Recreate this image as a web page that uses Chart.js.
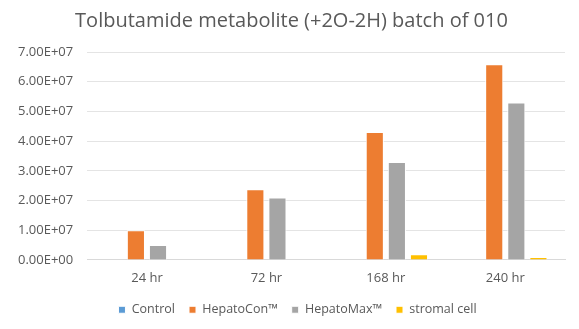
<!DOCTYPE html>
<html lang="en">
<head>
  <meta charset="UTF-8">
  <title>Tolbutamide metabolite</title>
  <script src="https://cdn.jsdelivr.net/npm/chart.js@4/dist/chart.umd.min.js"></script>
  <style>
    body { margin: 0; background: #fff; }
  </style>
</head>
<body>
<canvas id="metaboliteChart" width="579" height="329"></canvas>

<script>
  // time points and measured peak areas per culture type
  const timePoints = ['24 hr', '72 hr', '168 hr', '240 hr'];
  const control = [0, 0, 0, 0];
  const hepatoCon = [1.0e7, 2.38e7, 4.31e7, 6.59e7];
  const hepatoMax = [0.5e7, 2.1e7, 3.3e7, 5.3e7];
  const stromalCell = [0, 0, 0.19e7, 0.1e7];
  const yTicks = [0, 1e7, 2e7, 3e7, 4e7, 5e7, 6e7, 7e7];

  const FONT = "'Open Sans', sans-serif";
  const TEXT = '#595959';

  // 7.00E+07 style labels
  function sci(v) {
    if (v === 0) return '0.00E+00';
    const exp = Math.floor(Math.log10(Math.abs(v)));
    const mant = (v / Math.pow(10, exp)).toFixed(2);
    return mant + 'E' + (exp < 0 ? '-' : '+') + String(Math.abs(exp)).padStart(2, '0');
  }

  function series(label, data, color) {
    return {
      label, data,
      backgroundColor: color,
      borderColor: '#ffffff',
      borderWidth: 1,
      categoryPercentage: 0.74,
      barPercentage: 0.82
    };
  }

  // centre title and legend on the whole canvas rather than the padded area
  const centerBlocks = {
    id: 'centerBlocks',
    afterLayout(chart) {
      const shift = (box, dx) => { if (box) { box.left += dx; box.right += dx; } };
      shift(chart.titleBlock, 7);
      shift(chart.legend, 13);
    }
  };

  new Chart(document.getElementById('metaboliteChart'), {
    type: 'bar',
    data: {
      labels: timePoints,
      datasets: [
        series('Control', control, '#5b9bd5'),
        series('HepatoCon\u2122', hepatoCon, '#ed7d31'),
        series('HepatoMax\u2122', hepatoMax, '#a5a5a5'),
        series('stromal cell', stromalCell, '#ffc000')
      ]
    },
    plugins: [centerBlocks],
    options: {
      responsive: false,
      animation: false,
      layout: { padding: { left: 4, right: 14, top: 7, bottom: 3 } },
      plugins: {
        title: {
          display: true,
          text: 'Tolbutamide metabolite (+2O-2H) batch of 010',
          color: TEXT,
          font: { family: FONT, size: 20, weight: 'normal' },
          padding: { top: 2, bottom: 19 }
        },
        legend: {
          position: 'bottom',
          labels: {
            color: TEXT,
            font: { family: FONT, size: 12.5 },
            boxWidth: 7,
            boxHeight: 7,
            padding: 14
          }
        },
        tooltip: { enabled: false }
      },
      scales: {
        x: {
          grid: { display: false },
          border: { color: '#d9d9d9' },
          ticks: { color: TEXT, font: { family: FONT, size: 13 }, padding: 3 }
        },
        y: {
          min: 0,
          max: 7e7,
          afterBuildTicks: axis => { axis.ticks = yTicks.map(v => ({ value: v })); },
          grid: { color: '#e4e4e4', drawTicks: false },
          border: { display: false },
          ticks: {
            color: TEXT,
            font: { family: FONT, size: 13 },
            padding: 14,
            callback: v => sci(v)
          }
        }
      }
    }
  });
</script>
</body>
</html>
